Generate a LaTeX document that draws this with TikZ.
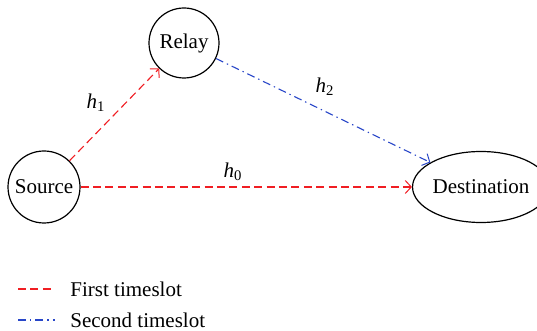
\documentclass[tikz,border=0pt]{standalone}
\usepackage{fontspec}
\setmainfont{Liberation Serif}
\usetikzlibrary{shapes.geometric,arrows.meta}
\definecolor{slotred}{RGB}{240,30,35}
\definecolor{slotblue}{RGB}{40,70,200}
\begin{document}
\begin{tikzpicture}[x=0.5pt,y=-0.5pt,
  every node/.style={font=\fontsize{10.5}{12}\selectfont},
  station/.style={draw,circle,line width=0.6pt,inner sep=0pt},
  tip/.style={-{Straight Barb[length=3pt,width=6.5pt,line width=0.5pt]}},
  firstslot/.style={draw=slotred,line width=0.55pt,dash pattern=on 4pt off 2.2pt},
  secondslot/.style={draw=slotblue,line width=0.55pt,dash pattern=on 4pt off 2pt on 0.7pt off 2pt},
  lbl/.style={inner sep=0pt}]
\useasboundingbox (0,0) rectangle (537,331);
\node[station,minimum size=35pt] (R) at (184,43) {Relay};
\node[station,minimum size=36pt] (S) at (44,187) {Source};
\node[draw,ellipse,line width=0.6pt,inner sep=0pt,minimum width=56pt,minimum height=35.5pt] (D) at (481,187) {Destination};
\draw[firstslot,tip] (S) -- (R);
\draw[firstslot,tip] (S) -- (D);
\draw[secondslot,tip] (R) -- (D);
\node[lbl] (h1) at (96,103) {\textit{h}\textsubscript{1}};
\node[lbl] (h0) at (233,172) {\textit{h}\textsubscript{0}};
\node[lbl] (h2) at (325,87) {\textit{h}\textsubscript{2}};
\coordinate (l1a) at (18,289);
\coordinate (l1b) at (55,289);
\coordinate (l2a) at (18,320);
\coordinate (l2b) at (55,320);
\draw[firstslot] (l1a) -- (l1b);
\draw[secondslot] (l2a) -- (l2b);
\node[anchor=west,inner sep=0pt] (t1) at (70,289) {First timeslot};
\node[anchor=west,inner sep=0pt] (t2) at (70,320) {Second timeslot};
\end{tikzpicture}
\end{document}
